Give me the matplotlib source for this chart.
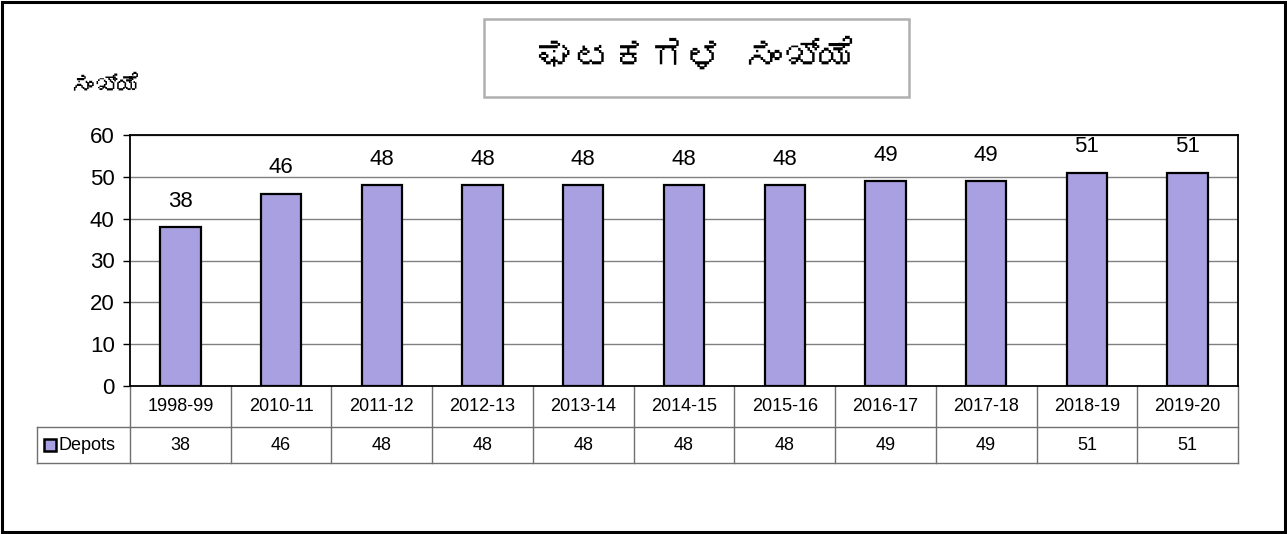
import matplotlib
matplotlib.use("Agg")
import matplotlib.pyplot as plt
from matplotlib import font_manager as fm
from matplotlib.ft2font import FT2Font
from matplotlib.patches import Rectangle

# data
years = ["1998-99", "2010-11", "2011-12", "2012-13", "2013-14", "2014-15",
         "2015-16", "2016-17", "2017-18", "2018-19", "2019-20"]
depots = [38, 46, 48, 48, 48, 48, 48, 49, 49, 51, 51]
series_name = "Depots"
title_text = "ಘಟಕಗಳ ಸಂಖ್ಯೆ"
ylabel_text = "ಸಂಖ್ಯೆ"

# look for any installed font that has Kannada glyphs
kannada_font = None
for f in fm.fontManager.ttflist:
    try:
        if 0x0C95 in FT2Font(f.fname).get_charmap():
            kannada_font = f.name
            break
    except Exception:
        pass
kfam = [kannada_font, "DejaVu Sans"] if kannada_font else ["DejaVu Sans"]

plt.rcParams["font.family"] = ["Liberation Sans", "DejaVu Sans"]

W, H = 1287, 534
fig = plt.figure(figsize=(W / 100, H / 100), dpi=100)

# outer frame
fig.patches.append(Rectangle((2 / W, 2 / H), 1 - 4 / W, 1 - 4 / H, transform=fig.transFigure,
                             fill=False, edgecolor="black", linewidth=2.2))

# title box
fig.patches.append(Rectangle((484 / W, 1 - 97 / H), 425 / W, 78 / H, transform=fig.transFigure,
                             fill=False, edgecolor="#b0b0b0", linewidth=1.8))
fig.text(697 / W, 1 - 57 / H, title_text, ha="center", va="center", fontsize=27,
         fontweight="bold", family=kfam)
fig.text(106 / W, 1 - 86 / H, ylabel_text, ha="center", va="center", fontsize=17,
         fontweight="bold", family=kfam)

ax_l, ax_r, ax_t, ax_b = 130, 1238, 135, 386
ax = fig.add_axes([ax_l / W, 1 - ax_b / H, (ax_r - ax_l) / W, (ax_b - ax_t) / H])

x = list(range(len(years)))
bars = ax.bar(x, depots, width=0.4, color="#a8a0e0", edgecolor="black", linewidth=1.6, zorder=3)
for xi, v in zip(x, depots):
    ax.annotate(str(v), (xi, v), xytext=(0, 11), textcoords="offset points",
                ha="center", va="bottom", fontsize=16)

ax.set_xlim(-0.5, len(years) - 0.5)
ax.set_ylim(0, 60)
ax.set_yticks(range(0, 61, 10))
ax.tick_params(axis="y", labelsize=16, direction="out", length=5, width=1, pad=6)
ax.set_xticks([])
ax.yaxis.grid(True, color="#808080", linewidth=1, zorder=0)
for s in ax.spines.values():
    s.set_color("black")
    s.set_linewidth(1.3)

# data table under the axes (axes-fraction y, data x)
trans = ax.get_xaxis_transform()
pw = ax_r - ax_l
ph = ax_b - ax_t
y1 = -(427 - ax_b) / ph
y2 = -(463 - ax_b) / ph
left_x = -0.5 - (ax_l - 37) / pw * len(years)
lc = "#707070"
for i in range(len(years) + 1):
    ax.plot([i - 0.5, i - 0.5], [0, y2], transform=trans, color=lc, lw=1, clip_on=False)
ax.plot([-0.5, len(years) - 0.5], [y1, y1], transform=trans, color=lc, lw=1, clip_on=False)
ax.plot([left_x, len(years) - 0.5], [y2, y2], transform=trans, color=lc, lw=1, clip_on=False)
ax.plot([left_x, -0.5], [y1, y1], transform=trans, color=lc, lw=1, clip_on=False)
ax.plot([left_x, left_x], [y1, y2], transform=trans, color=lc, lw=1, clip_on=False)
for xi, yr, v in zip(x, years, depots):
    ax.text(xi, y1 / 2, yr, transform=trans, ha="center", va="center", fontsize=13)
    ax.text(xi, (y1 + y2) / 2, str(v), transform=trans, ha="center", va="center", fontsize=13)

# legend key in the table row (square, ~12 px)
key_w = 12 / pw * len(years)
key_h = 12 / ph
key_x = left_x + 7 / pw * len(years)
ax.add_patch(Rectangle((key_x, (y1 + y2) / 2 - key_h / 2), key_w, key_h, transform=trans,
                       facecolor="#a8a0e0", edgecolor="black", linewidth=1.8, clip_on=False))
ax.text(key_x + key_w + 3 / pw * len(years), (y1 + y2) / 2, series_name, transform=trans,
        ha="left", va="center", fontsize=13)

fig.savefig("out.png", dpi=100)
